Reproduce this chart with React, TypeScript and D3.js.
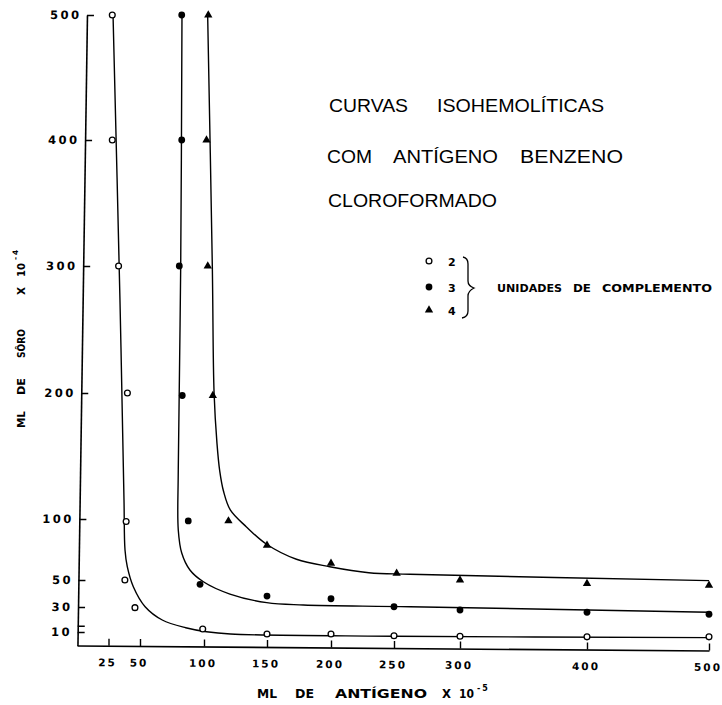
import React, { useEffect, useRef } from 'react'
import * as d3 from 'd3'

// eixo X: ml de antígeno x 10^-5
const xTicks = [25, 50, 100, 150, 200, 250, 300, 400, 500]
// eixo Y: ml de sôro x 10^-4
const yTicks = [10, 15, 30, 50, 100, 200, 300, 400, 500]
const yTickLabels = ['10', '', '30', '50', '100', '200', '300', '400', '500']

// pontos experimentais [antígeno, sôro]
const unidades2: [number, number][] = [
  [28, 500], [28, 400], [33, 300], [40, 200], [39, 98], [38, 50], [46, 29.5],
  [99, 12.4], [150, 8.5], [200, 8.5], [250, 7.2], [300, 6.9], [400, 6.4], [500, 6.4],
]
const unidades3: [number, number][] = [
  [82.6, 500], [82.6, 400], [80.7, 300], [83, 198], [87.7, 98.4], [96.9, 46.8],
  [150, 38.1], [200, 36.1], [250, 30.2], [300, 27.6], [400, 25.8], [500, 24.2],
]
const unidades4: [number, number][] = [
  [103.4, 500], [102, 400], [103, 300], [107, 198], [119.4, 98.4], [150, 78.4],
  [200, 63.7], [252, 55.5], [300, 50], [400, 47.4], [500, 46],
]

// curvas isohemolíticas traçadas à mão
const curva2: [number, number][] = [
  [28.6, 500], [34.1, 273], [37.3, 115], [38.1, 74.6], [39.9, 60.9], [44.7, 45],
  [54, 30.2], [67.4, 19.6], [85.7, 13.4], [102, 10.2], [121, 8.5], [250, 6.9], [500, 5.8],
]
const curva3: [number, number][] = [
  [82.8, 500], [81.8, 300], [79.9, 139], [79.9, 91], [82.6, 72.1], [89, 58.2],
  [99.5, 48.7], [120.6, 39.6], [149.8, 33.2], [178.4, 31.5], [262, 30.2], [500, 25.8],
]
const curva4: [number, number][] = [
  [102.9, 500], [106.6, 300], [108, 200], [110.3, 160], [112.5, 138], [115.5, 122],
  [121, 107], [133.5, 93.7], [149.4, 79.5], [173, 67], [199, 60.9], [230, 56],
  [262, 54.7], [500, 49.5],
]

const legendItems = ['2', '3', '4']

export default function App(): React.ReactElement {
  const ref = useRef<SVGSVGElement>(null)

  useEffect(() => {
    const width = 722
    const height = 705
    const svg = d3.select(ref.current)
    svg.selectAll('*').remove()
    svg.attr('width', width).attr('height', height).attr('viewBox', `0 0 ${width} ${height}`)

    // the original axes are hand drawn, so the scales follow the drawn ticks
    const x = d3
      .scaleLinear()
      .domain([0, 50, 100, 150, 200, 250, 300, 400, 500])
      .range([77, 140, 204, 267, 331, 394, 460, 587, 709])
    const y = d3
      .scaleLinear()
      .domain([0, 10, 30, 50, 100, 200, 300, 400, 500])
      .range([645.5, 632, 607, 580, 519, 393, 266, 140, 15])

    const boldFont = '"DejaVu Sans", sans-serif'

    // eixo X
    const gx = svg
      .append('g')
      .attr('transform', 'translate(0,644.9) skewY(0.453)')
      .call(
        d3
          .axisBottom(x)
          .tickValues(xTicks)
          .tickSizeInner(-7)
          .tickSizeOuter(0)
          .tickPadding(13)
          .tickFormat(d3.format('d'))
      )
    gx.select('.domain').attr('stroke-width', 1.6)
    gx.selectAll('.tick line').attr('stroke-width', 1.4)
    gx.selectAll('.tick text')
      .attr('font-family', boldFont)
      .attr('font-weight', 'bold')
      .attr('font-size', 10.5)
      .attr('letter-spacing', 2)
      .attr('dx', -1.5)

    // eixo Y
    const gy = svg
      .append('g')
      .attr('transform', 'translate(87.2,0) skewX(-0.864)')
      .call(
        d3
          .axisLeft(y)
          .tickValues(yTicks)
          .tickSizeInner(-7)
          .tickSizeOuter(0)
          .tickPadding(5.5)
          .tickFormat((_, i) => yTickLabels[i])
      )
    gy.select('.domain').attr('stroke-width', 1.6)
    gy.selectAll('.tick line').attr('stroke-width', 1.4)
    gy.selectAll('.tick text')
      .attr('font-family', boldFont)
      .attr('font-weight', 'bold')
      .attr('font-size', 11.5)
      .attr('letter-spacing', 2.5)

    // curvas
    const line = d3
      .line<[number, number]>()
      .x((d) => x(d[0]))
      .y((d) => y(d[1]))
      .curve(d3.curveCatmullRom.alpha(0.5))

    for (const c of [curva2, curva3, curva4]) {
      svg
        .append('path')
        .datum(c)
        .attr('d', line)
        .attr('fill', 'none')
        .attr('stroke', '#000')
        .attr('stroke-width', 1.4)
    }

    const triangle = d3.symbol(d3.symbolTriangle, 30)

    const drawOpen = (g: any, px: number, py: number) =>
      g.append('circle').attr('cx', px).attr('cy', py).attr('r', 2.9)
        .attr('fill', '#fff').attr('stroke', '#000').attr('stroke-width', 1.3)
    const drawFilled = (g: any, px: number, py: number) =>
      g.append('circle').attr('cx', px).attr('cy', py).attr('r', 3.4).attr('fill', '#000')
    const drawTriangle = (g: any, px: number, py: number) =>
      g.append('path').attr('d', triangle()).attr('transform', `translate(${px},${py})`).attr('fill', '#000')

    const pts = svg.append('g')
    unidades2.forEach((d) => drawOpen(pts, x(d[0]), y(d[1])))
    unidades3.forEach((d) => drawFilled(pts, x(d[0]), y(d[1])))
    unidades4.forEach((d) => drawTriangle(pts, x(d[0]), y(d[1])))

    // título
    const titleFont = '"Liberation Sans Narrow", "Liberation Sans", Arial, sans-serif'
    const titleWords: [string, number, number, number][] = [
      ['CURVAS', 329, 112, 79],
      ['ISOHEMOLÍTICAS', 437, 112, 167],
      ['COM', 327, 163, 45],
      ['ANTÍGENO', 393, 163, 105],
      ['BENZENO', 520, 163, 103],
      ['CLOROFORMADO', 328, 207, 169],
    ]
    svg
      .append('g')
      .selectAll('text')
      .data(titleWords)
      .join('text')
      .attr('x', (d) => d[1])
      .attr('y', (d) => d[2])
      .attr('textLength', (d) => d[3])
      .attr('lengthAdjust', 'spacingAndGlyphs')
      .attr('font-family', titleFont)
      .attr('font-size', 18)
      .attr('fill', '#000')
      .text((d) => d[0])

    // legenda
    const leg = svg.append('g')
    const legY = [261, 287, 310]
    drawOpen(leg, 429, legY[0])
    drawFilled(leg, 429, legY[1])
    drawTriangle(leg, 429, legY[2])
    leg
      .selectAll('text.num')
      .data(legendItems)
      .join('text')
      .attr('class', 'num')
      .attr('x', 448)
      .attr('y', (_, i) => legY[i] + 5)
      .attr('font-family', boldFont)
      .attr('font-weight', 'bold')
      .attr('font-size', 11)
      .text((d) => d)
    leg
      .append('path')
      .attr('d', 'M463,257 Q468,258 468,264 L468,281 Q468,286 474,288 Q468,291 468,296 L468,311 Q468,317 462,318')
      .attr('fill', 'none')
      .attr('stroke', '#000')
      .attr('stroke-width', 1.3)
    const legWords: [string, number, number][] = [
      ['UNIDADES', 497, 65],
      ['DE', 573, 18],
      ['COMPLEMENTO', 602, 110],
    ]
    leg
      .selectAll('text.w')
      .data(legWords)
      .join('text')
      .attr('class', 'w')
      .attr('x', (d) => d[1])
      .attr('y', 292)
      .attr('textLength', (d) => d[2])
      .attr('lengthAdjust', 'spacingAndGlyphs')
      .attr('font-family', boldFont)
      .attr('font-weight', 'bold')
      .attr('font-size', 10.5)
      .text((d) => d[0])

    // títulos dos eixos
    const xTitle: [string, number, number][] = [
      ['ML', 257, 20],
      ['DE', 295, 19],
      ['ANTÍGENO', 335, 92],
      ['X', 442, 9],
      ['10', 459, 15],
    ]
    const xt = svg.append('g')
    xt.selectAll('text')
      .data(xTitle)
      .join('text')
      .attr('x', (d) => d[1])
      .attr('y', 698)
      .attr('textLength', (d) => d[2])
      .attr('lengthAdjust', 'spacingAndGlyphs')
      .attr('font-family', boldFont)
      .attr('font-weight', 'bold')
      .attr('font-size', 11.5)
      .text((d) => d[0])
    xt.append('text')
      .attr('x', 477)
      .attr('y', 691)
      .attr('font-family', boldFont)
      .attr('font-weight', 'bold')
      .attr('font-size', 8)
      .attr('letter-spacing', 2)
      .text('-5')

    const yTitle: [string, number, number][] = [
      ['ML', 0, 17],
      ['DE', 33, 17],
      ['SÔRO', 70, 29],
      ['X', 133, 8],
      ['10', 151, 14],
    ]
    const yt = svg.append('g').attr('transform', 'translate(25,428) rotate(-90)')
    yt.selectAll('text')
      .data(yTitle)
      .join('text')
      .attr('x', (d) => d[1])
      .attr('y', 0)
      .attr('textLength', (d) => d[2])
      .attr('lengthAdjust', 'spacingAndGlyphs')
      .attr('font-family', boldFont)
      .attr('font-weight', 'bold')
      .attr('font-size', 11)
      .text((d) => d[0])
    yt.append('text')
      .attr('x', 168)
      .attr('y', -7)
      .attr('font-family', boldFont)
      .attr('font-weight', 'bold')
      .attr('font-size', 7.5)
      .attr('letter-spacing', 2)
      .text('-4')
  }, [])

  return (
    <svg
      ref={ref}
      style={{ position: 'absolute', left: 0, top: 0, background: '#fff' }}
    />
  )
}
